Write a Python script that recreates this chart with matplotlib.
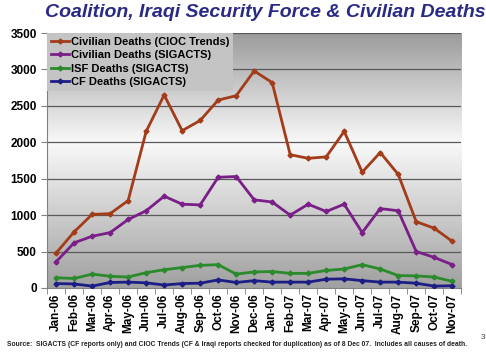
import matplotlib
matplotlib.use("Agg")
import matplotlib.pyplot as plt
import numpy as np
from matplotlib.colors import LinearSegmentedColormap

months = ["Jan-06", "Feb-06", "Mar-06", "Apr-06", "May-06", "Jun-06", "Jul-06",
          "Aug-06", "Sep-06", "Oct-06", "Nov-06", "Dec-06", "Jan-07", "Feb-07",
          "Mar-07", "Apr-07", "May-07", "Jun-07", "Jul-07", "Aug-07", "Sep-07",
          "Oct-07", "Nov-07"]

civ_cioc = [480, 770, 1010, 1020, 1200, 2150, 2650, 2160, 2300, 2580, 2640, 2980,
            2820, 1830, 1780, 1800, 2150, 1590, 1860, 1560, 910, 820, 640]
civ_sigacts = [360, 620, 710, 760, 940, 1060, 1260, 1150, 1140, 1520, 1530, 1210,
               1180, 1000, 1150, 1050, 1150, 760, 1090, 1060, 500, 420, 320]
isf_sigacts = [140, 130, 190, 160, 150, 210, 250, 280, 310, 320, 190, 220,
               225, 200, 200, 240, 260, 320, 260, 170, 165, 150, 90]
cf_sigacts = [60, 55, 25, 75, 80, 70, 40, 60, 65, 110, 75, 100,
              80, 80, 80, 120, 125, 100, 80, 80, 65, 25, 30]

series = [
    ("Civilian Deaths (CIOC Trends)", civ_cioc, "#a23c1a"),
    ("Civilian Deaths (SIGACTS)", civ_sigacts, "#7a1f87"),
    ("ISF Deaths (SIGACTS)", isf_sigacts, "#2b8a2b"),
    ("CF Deaths (SIGACTS)", cf_sigacts, "#1d1d86"),
]

plt.rcParams["font.family"] = ["Liberation Sans", "DejaVu Sans"]

fig = plt.figure(figsize=(4.86, 3.52), dpi=100)
ax = fig.add_axes([0.097, 0.182, 0.852, 0.724])

x = np.arange(len(months))

# gray-white-gray gradient background like the Excel chart
grad_cmap = LinearSegmentedColormap.from_list(
    "bg", [(0.0, "#a0a0a0"), (0.57, "#f9f9f9"), (1.0, "#9c9c9c")])
grad = np.linspace(0, 1, 256).reshape(-1, 1)
ax.imshow(grad, cmap=grad_cmap, aspect="auto", origin="lower",
          extent=[-0.5, 22.5, 0, 3500], zorder=0)

for yv in range(500, 3501, 500):
    ax.axhline(yv, color="#5a5a5a", lw=0.9, zorder=1)

for name, vals, col in series:
    ax.plot(x, vals, color=col, lw=2, marker="D", ms=2.5, label=name, zorder=3)

ax.set_xlim(-0.5, 22.5)
ax.set_ylim(0, 3500)
ax.set_yticks(range(0, 3501, 500))
ax.set_xticks(x)
ax.set_xticklabels(months, rotation=90, fontsize=8.5, fontweight="bold")
ax.set_xticks(np.arange(-0.5, 23, 1), minor=True)
ax.tick_params(axis="x", which="major", length=0, pad=4)
ax.tick_params(axis="x", which="minor", length=4, color="#808080")
ax.tick_params(axis="y", length=4, color="#808080", labelsize=8.5)
for lab in ax.get_yticklabels():
    lab.set_fontweight("bold")

for side in ["top", "right"]:
    ax.spines[side].set_visible(False)
ax.spines["left"].set_color("#808080")
ax.spines["bottom"].set_color("#808080")

leg = ax.legend(loc="upper left", bbox_to_anchor=(0.0, 1.0), frameon=True,
                fancybox=False, borderaxespad=0, handlelength=1.6,
                handletextpad=0.2, labelspacing=0.3, borderpad=0.35,
                prop={"weight": "bold", "size": 8})
leg.get_frame().set_facecolor("#c4c4c4")
leg.get_frame().set_edgecolor("none")
leg.get_frame().set_alpha(1)
leg.set_zorder(4)

fig.text(0.545, 0.965, "Coalition, Iraqi Security Force & Civilian Deaths",
         ha="center", va="center", fontsize=14, fontweight="bold",
         fontstyle="italic", color="#2a2a86")

fig.text(0.015, 0.02,
         "Source:  SIGACTS (CF reports only) and CIOC Trends (CF & Iraqi reports "
         "checked for duplication) as of 8 Dec 07.  Includes all causes of death.",
         ha="left", va="center", fontsize=4.9, fontweight="bold", color="#222222")
fig.text(0.999, 0.04, "3", ha="right", va="center", fontsize=6, color="#444444")

fig.savefig("out.png", dpi=100)
